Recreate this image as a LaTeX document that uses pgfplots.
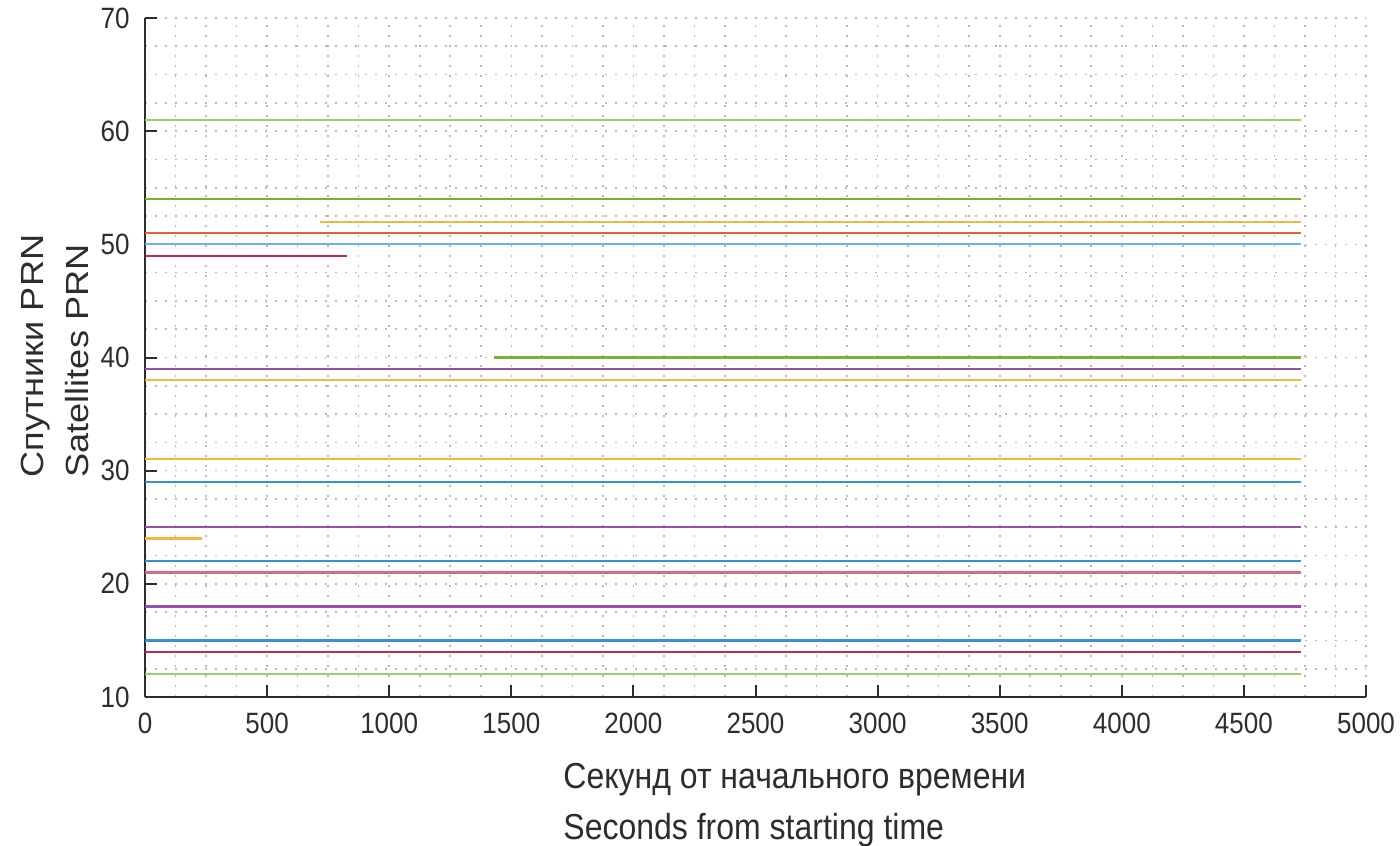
\documentclass[border=0pt]{standalone}
\usepackage{fontspec}
\setmainfont{Liberation Sans}
\usepackage{graphicx}
\usepackage{pgfplots}
\pgfplotsset{compat=1.18}
\definecolor{mblue}{RGB}{55,145,210}
\definecolor{redD}{RGB}{180,50,80}
\definecolor{redL}{RGB}{205,110,130}
\definecolor{purp}{RGB}{150,80,165}
\definecolor{yell}{RGB}{240,185,60}
\definecolor{mgreen}{RGB}{120,180,50}
\definecolor{greenL}{RGB}{155,205,110}
\definecolor{morange}{RGB}{220,100,60}
\definecolor{lblue}{RGB}{110,180,230}
\definecolor{axgray}{RGB}{45,45,45}
\begin{document}
\begin{tikzpicture}
\begin{axis}[name=ax,
  scale only axis, width=610.5pt, height=339.5pt,
  xmin=0, xmax=5000, ymin=10, ymax=70,
  xtick={0,500,...,5000}, ytick={10,20,...,70},
  minor x tick num=3, minor y tick num=3,
  grid=both,
  major grid style={draw=gray!55, dash pattern=on 0.8pt off 4.2pt, line width=0.8pt},
  minor grid style={draw=gray!55, dash pattern=on 0.8pt off 4.2pt, line width=0.8pt},
  axis x line*=bottom, axis y line*=left,
  axis line style={-, line width=1pt, color=axgray},
  tick align=inside, major tick length=6pt, minor tick length=0pt,
  tick style={line width=1pt, color=axgray},
  scaled x ticks=false,
  /pgf/number format/.cd, 1000 sep={}, assume math mode=true, /pgfplots/.cd,
  xticklabel={\scalebox{1}[1.13]{\pgfmathprintnumber{\tick}}},
  yticklabel={\scalebox{1}[1.13]{\pgfmathprintnumber{\tick}}},
  ticklabel style={font=\fontsize{13}{15}\selectfont, color=axgray},
  xticklabel style={yshift=-4.7pt},
  yticklabel style={xshift=-4.2pt},
  xlabel={\scalebox{1}[1.13]{\begin{tabular}{@{}l@{}}Секунд от начального времени\\Seconds from starting time\end{tabular}}},
  xlabel style={at={(axis description cs:0.34234,-0.08247)}, anchor=north west, inner sep=0pt, font=\fontsize{16}{22.5}\selectfont, color=axgray},
  ylabel={\scalebox{1.13}[1]{\begin{tabular}{@{}l@{}}Спутники PRN\\Satellites PRN\end{tabular}}},
  ylabel style={at={(axis description cs:-0.10934,0.32253)}, anchor=north west, rotate=0, inner sep=0pt, font=\fontsize{16}{22.5}\selectfont, color=axgray},
  every axis plot/.append style={line width=1.1pt, no markers},
]
\addplot[greenL] coordinates {(0,12) (4733,12)};
\addplot[redD] coordinates {(0,14) (4733,14)};
\addplot[mblue] coordinates {(0,15) (4733,15)};
\addplot[purp] coordinates {(0,18) (4733,18)};
\addplot[redL] coordinates {(0,21) (4733,21)};
\addplot[mblue] coordinates {(0,22) (4733,22)};
\addplot[yell] coordinates {(0,24) (232,24)};
\addplot[purp] coordinates {(0,25) (4733,25)};
\addplot[mblue] coordinates {(0,29) (4733,29)};
\addplot[yell] coordinates {(0,31) (4733,31)};
\addplot[yell] coordinates {(0,38) (4733,38)};
\addplot[purp] coordinates {(0,39) (4733,39)};
\addplot[mgreen] coordinates {(1429,40) (4733,40)};
\addplot[redD] coordinates {(0,49) (827,49)};
\addplot[lblue] coordinates {(0,50) (4733,50)};
\addplot[morange] coordinates {(0,51) (4733,51)};
\addplot[yell] coordinates {(717,52) (4733,52)};
\addplot[mgreen] coordinates {(0,54) (4733,54)};
\addplot[greenL] coordinates {(0,61) (4733,61)};
\end{axis}
\pgfresetboundingbox
\path (ax.south west) ++(-72.5pt,-74pt) rectangle ++(700pt,422.5pt);
\end{tikzpicture}
\end{document}
